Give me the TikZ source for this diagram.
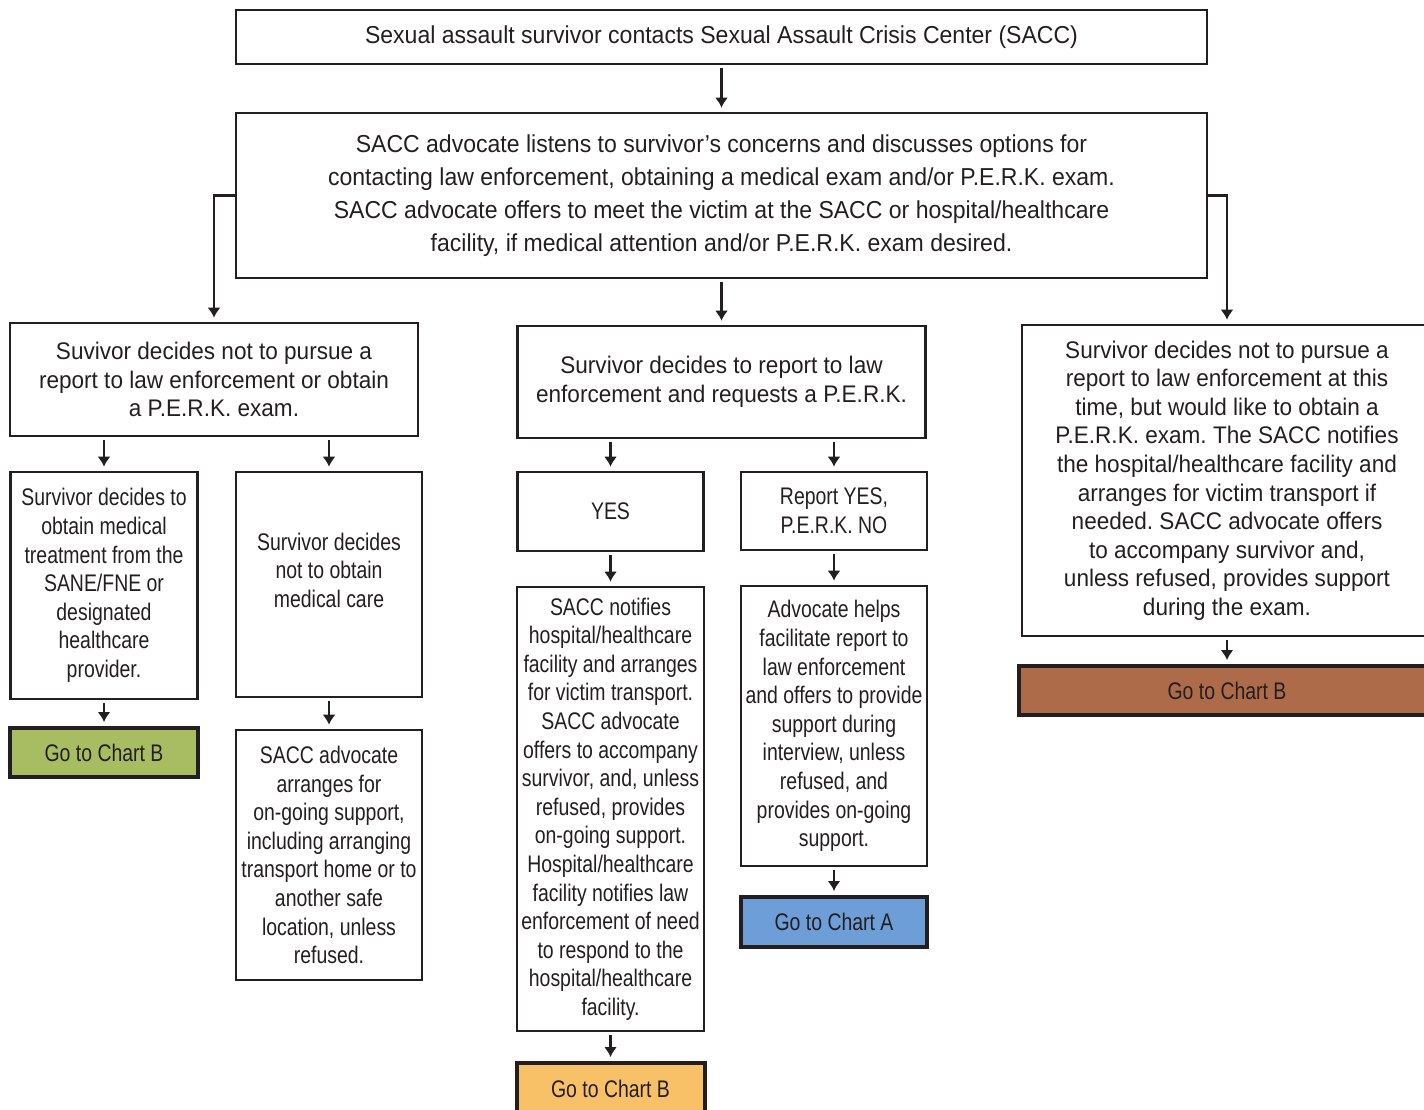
\documentclass[tikz,border=0pt]{standalone}
\usepackage{fontspec}
\setmainfont{Liberation Sans}
\newfontfamily\widefont[FakeStretch=0.94]{Liberation Sans}
\newfontfamily\narrowfont[FakeStretch=0.81]{Liberation Sans}
\usepackage{xcolor}
\usepackage{tikz}
\usetikzlibrary{arrows.meta}
\frenchspacing
\definecolor{ink}{HTML}{231F20}
\definecolor{gochart_g}{HTML}{A8BC62}
\definecolor{gochart_o}{HTML}{F9C167}
\definecolor{gochart_b}{HTML}{6E9ED8}
\definecolor{gochart_r}{HTML}{AD6B4A}
\tikzset{
  flownode/.style = {rectangle, draw=ink, text=ink, line width=1.3pt,
    align=center, inner sep=0pt},
  flow_w/.style = {flownode, font=\widefont\fontsize{12}{14.3}\selectfont},% wide text
  flow_top/.style = {flownode, font=\widefont\fontsize{12.25}{16.5}\selectfont},% top boxes
  flow_n/.style = {flownode, font=\narrowfont\fontsize{12}{14.3}\selectfont},% column boxes
  flow_go/.style = {flow_n, line width=2pt, minimum height=24.5pt},% go to chart
  flow_arr/.style = {-{Latex[length=5pt,width=6.5pt]}, draw=ink, line width=1.4pt,
    shorten <=1.5pt, shorten >=2pt}
}

\begin{document}
\begin{tikzpicture}[x=0.5pt,y=-0.5pt]
\useasboundingbox (0,0) rectangle (1424,1109);
\clip (0,0) rectangle (1424,1109);
% top of the chart
\node [flow_top, minimum width=485.5pt, minimum height=27pt] (contact) at (721.5,37)
  {Sexual assault survivor contacts Sexual Assault Crisis Center (SACC)};
\node [flow_top, minimum width=485.5pt, minimum height=82.5pt] (listen) at (721.5,195.5)
  {SACC advocate listens to survivor’s concerns and discusses options for\\
   contacting law enforcement, obtaining a medical exam and/or P.E.R.K. exam.\\
   SACC advocate offers to meet the victim at the SACC or hospital/healthcare\\
   facility, if medical attention and/or P.E.R.K. exam desired.};
% three decisions
\node [flow_w, minimum width=204pt, minimum height=56.5pt] (nolaw) at (214,379.5)
  {Suvivor decides not to pursue a\\report to law enforcement or obtain\\a P.E.R.K. exam.};
\node [flow_w, minimum width=204pt, minimum height=56pt] (perk) at (721.5,382)
  {Survivor decides to report to law\\enforcement and requests a P.E.R.K.};
\node [flow_w, minimum width=205pt, minimum height=155.5pt] (examonly) at (1227,480.5)
  {Survivor decides not to pursue a\\report to law enforcement at this\\time, but would like to obtain a\\
   P.E.R.K. exam. The SACC notifies\\the hospital/healthcare facility and\\arranges for victim transport if\\
   needed. SACC advocate offers\\to accompany survivor and,\\unless refused, provides support\\during the exam.};
% left column
\node [flow_n, minimum width=93.5pt, minimum height=113.5pt] (medtx) at (104,585.5)
  {Survivor decides to\\obtain medical\\treatment from the\\SANE/FNE or\\designated\\healthcare\\provider.};
\node [flow_n, minimum width=93pt, minimum height=112.5pt] (nomed) at (329,584.5)
  {Survivor decides\\not to obtain\\medical care\\\mbox{}};
\node [flow_go, fill=gochart_g, minimum width=94pt] (chartb_g) at (104,752.5) {Go to Chart B};
\node [flow_n, minimum width=93pt, minimum height=125pt] (support) at (329,855)
  {SACC advocate\\arranges for\\on-going support,\\including arranging\\transport home or to\\
   another safe\\location, unless\\refused.};
% middle column
\node [flow_n, minimum width=93pt, minimum height=39.5pt] (yes) at (610.5,511.5) {YES};
\node [flow_n, minimum width=93pt, minimum height=39pt] (repno) at (834,511)
  {Report YES,\\P.E.R.K. NO};
\node [flow_n, minimum width=93.5pt, minimum height=222pt] (notify) at (610.5,809)
  {SACC notifies\\hospital/healthcare\\facility and arranges\\for victim transport.\\SACC advocate\\
   offers to accompany\\survivor, and, unless\\refused, provides\\on-going support.\\
   Hospital/healthcare\\facility notifies law\\enforcement of need\\to respond to the\\
   hospital/healthcare\\facility.};
\node [flow_n, minimum width=93pt, minimum height=140pt] (helps) at (834,726)
  {Advocate helps\\facilitate report to\\law enforcement\\and offers to provide\\support during\\
   interview, unless\\refused, and\\provides on-going\\support.};
\node [flow_go, fill=gochart_o, minimum width=94pt, minimum height=25.5pt] (chartb_o) at (610.5,1088.5) {Go to Chart B};
\node [flow_go, fill=gochart_b, minimum width=93pt, minimum height=25pt] (charta) at (834,922) {Go to Chart A};
% right column
\node [flow_go, fill=gochart_r, minimum width=208pt] (chartb_r) at (1227,690.5) {Go to Chart B};
% connectors
\draw [flow_arr] (contact) -- (listen);
\draw [flow_arr, shorten <=0pt] (listen.west) -| (nolaw.north);
\draw [flow_arr] (listen.south -| perk.north) -- (perk);
\draw [flow_arr, shorten <=0pt] (listen.east) -| (examonly.north);
\draw [flow_arr] (nolaw.south -| medtx.north) -- (medtx);
\draw [flow_arr] (nolaw.south -| nomed.north) -- (nomed);
\draw [flow_arr] (medtx) -- (chartb_g);
\draw [flow_arr] (nomed) -- (support);
\draw [flow_arr] (perk.south -| yes.north) -- (yes);
\draw [flow_arr] (perk.south -| repno.north) -- (repno);
\draw [flow_arr] (yes) -- (notify);
\draw [flow_arr] (repno) -- (helps);
\draw [flow_arr] (notify) -- (chartb_o);
\draw [flow_arr] (helps) -- (charta);
\draw [flow_arr] (examonly) -- (chartb_r);
\end{tikzpicture}
\end{document}
